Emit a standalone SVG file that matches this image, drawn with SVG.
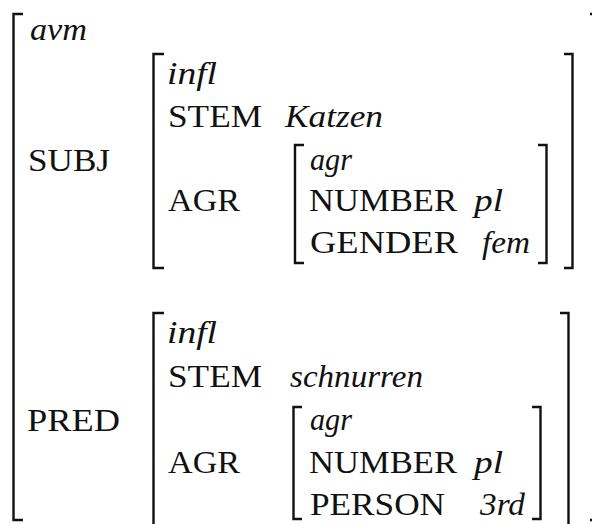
<svg xmlns="http://www.w3.org/2000/svg" width="592" height="524" viewBox="0 0 592 524">
  <style>
    .br { fill: none; stroke: #111; stroke-width: 2.4; stroke-linecap: butt; stroke-linejoin: miter; }
    .a { font-family: "Liberation Serif", serif; font-size: 32px; fill: #111; }
    .v { font-family: "Liberation Serif", serif; font-size: 32px; font-style: italic; fill: #111; }
  </style>
  <rect width="592" height="524" fill="#fff"/>

  <!-- outermost feature structure; its right bracket lies past the edge, only the serif tips show -->
  <g id="avm">
    <path class="br" d="M23,14 H13.5 V520 H23"/>
    <path class="br" d="M590,14 H592 M590,520 H592"/>
    <text class="v" x="30" y="40" textLength="57" lengthAdjust="spacingAndGlyphs">avm</text>
    <text class="a" x="28" y="171" textLength="82" lengthAdjust="spacingAndGlyphs">SUBJ</text>
    <text class="a" x="27" y="431" textLength="93" lengthAdjust="spacingAndGlyphs">PRED</text>
  </g>

  <!-- SUBJ value -->
  <g id="subj">
    <path class="br" d="M164,54 H153.5 V268 H164"/>
    <path class="br" d="M564,54 H572.5 V268 H564"/>
    <text class="v" x="167" y="84" textLength="50" lengthAdjust="spacingAndGlyphs">infl</text>
    <text class="a" x="168" y="127" textLength="94" lengthAdjust="spacingAndGlyphs">STEM</text>
    <text class="v" x="285" y="127" textLength="98" lengthAdjust="spacingAndGlyphs">Katzen</text>
    <text class="a" x="168" y="211" textLength="72" lengthAdjust="spacingAndGlyphs">AGR</text>
  </g>

  <!-- SUBJ agreement -->
  <g id="subj-agr">
    <path class="br" d="M304,145 H295 V263 H304"/>
    <path class="br" d="M538,145 H546.5 V263 H538"/>
    <text class="v" x="310" y="170" textLength="42" lengthAdjust="spacingAndGlyphs">agr</text>
    <text class="a" x="309" y="211" textLength="148" lengthAdjust="spacingAndGlyphs">NUMBER</text>
    <text class="v" x="474" y="211" textLength="29" lengthAdjust="spacingAndGlyphs">pl</text>
    <text class="a" x="310" y="253" textLength="148" lengthAdjust="spacingAndGlyphs">GENDER</text>
    <text class="v" x="482" y="253" textLength="48" lengthAdjust="spacingAndGlyphs">fem</text>
  </g>

  <!-- PRED value -->
  <g id="pred">
    <path class="br" d="M164,313 H153.5 V540"/>
    <path class="br" d="M560,313 H568.5 V540"/>
    <text class="v" x="167" y="343" textLength="50" lengthAdjust="spacingAndGlyphs">infl</text>
    <text class="a" x="168" y="387" textLength="94" lengthAdjust="spacingAndGlyphs">STEM</text>
    <text class="v" x="290" y="387" textLength="133" lengthAdjust="spacingAndGlyphs">schnurren</text>
    <text class="a" x="168" y="473" textLength="72" lengthAdjust="spacingAndGlyphs">AGR</text>
  </g>

  <!-- PRED agreement -->
  <g id="pred-agr">
    <path class="br" d="M302,407 H293.5 V519 H302"/>
    <path class="br" d="M532,407 H540.5 V519 H532"/>
    <text class="v" x="310" y="430" textLength="42" lengthAdjust="spacingAndGlyphs">agr</text>
    <text class="a" x="309" y="473" textLength="148" lengthAdjust="spacingAndGlyphs">NUMBER</text>
    <text class="v" x="474" y="473" textLength="29" lengthAdjust="spacingAndGlyphs">pl</text>
    <text class="a" x="310" y="515" textLength="135" lengthAdjust="spacingAndGlyphs">PERSON</text>
    <text class="v" x="480" y="515" textLength="45" lengthAdjust="spacingAndGlyphs">3rd</text>
  </g>
</svg>
